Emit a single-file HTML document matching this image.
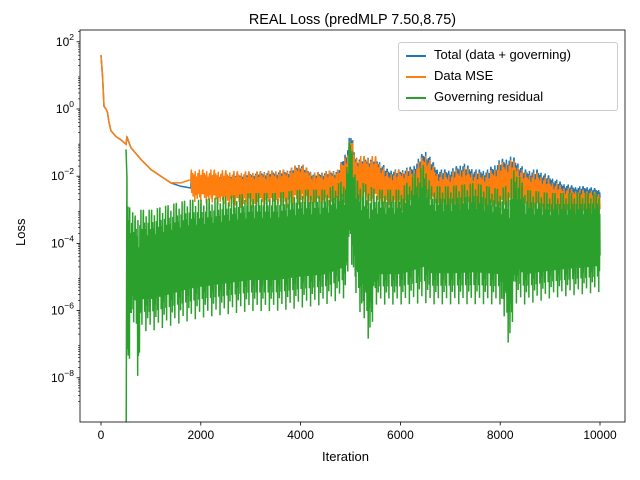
<!DOCTYPE html>
<html><head><meta charset="utf-8"><style>
body{margin:0;background:#fff;font-family:"Liberation Sans","DejaVu Sans",sans-serif}
svg{display:block}
</style></head><body>
<svg id="chart" width="640" height="480" xmlns="http://www.w3.org/2000/svg">
<rect width="640" height="480" fill="#fff"/>
<g id="series"></g>
<g id="axes"></g>
</svg>
<script>
// ---- data (log10 of loss) ----
const warmIter=[0,30,60,100,130,160,200,300,400,500,520,600,800,1000,1200,1400,1600,1800];
const totalWarm=[1.6,1.0,0.08,0,-0.1,-0.4,-0.65,-0.82,-0.92,-1.05,-0.82,-1.15,-1.5,-1.8,-2.0,-2.2,-2.3,-2.35];
const dataWarm=[1.6,1.0,0.08,0,-0.1,-0.4,-0.65,-0.82,-0.92,-1.05,-0.85,-1.15,-1.5,-1.8,-2.0,-2.2,-2.2,-2.1];
const bandIter=[1800,2250,2750,3250,3750,4000,4250,4750,4950,5000,5100,5500,5750,6000,6250,6500,6750,7000,7250,7500,7750,8000,8250,8500,8750,9000,9250,9500,9750,10000];
const totalHigh=[-2.0,-1.9,-1.9,-1.85,-1.8,-1.6,-1.9,-1.8,-1.1,-0.6,-1.4,-1.4,-1.8,-1.8,-1.7,-1.2,-1.8,-1.8,-1.6,-1.8,-1.8,-1.5,-1.4,-1.8,-1.8,-2.0,-2.2,-2.3,-2.3,-2.4];
const totalLow=[-2.5,-2.5,-2.5,-2.5,-2.5,-2.4,-2.5,-2.5,-2.2,-1.9,-2.4,-2.5,-2.5,-2.5,-2.5,-2.4,-2.5,-2.6,-2.6,-2.6,-2.7,-2.6,-2.5,-2.7,-2.7,-2.7,-2.8,-2.8,-2.8,-2.8];
const dataHigh=[-1.8,-1.8,-1.85,-1.85,-1.8,-1.6,-1.9,-1.8,-1.2,-0.7,-1.4,-1.4,-1.9,-1.8,-1.8,-1.3,-1.9,-1.9,-1.7,-1.9,-1.9,-1.6,-1.5,-1.9,-1.9,-2.1,-2.3,-2.4,-2.4,-2.5];
const dataLow=[-2.8,-2.9,-3.0,-3.0,-3.0,-2.9,-3.0,-3.0,-2.8,-2.4,-2.9,-3.0,-3.1,-3.1,-3.1,-2.9,-3.1,-3.2,-3.2,-3.2,-3.2,-3.2,-3.1,-3.2,-3.2,-3.3,-3.3,-3.3,-3.3,-3.3];
const govIter=[500,520,600,700,750,800,1000,1250,1500,1750,2000,2500,3000,3500,4000,4500,4900,5000,5100,5400,5500,6000,6500,6600,7000,7500,8000,8200,8300,8500,9000,9500,10000];
const govHigh=[-1.2,-2.0,-3.0,-3.2,-3.0,-3.0,-3.0,-2.9,-2.8,-2.7,-2.7,-2.6,-2.5,-2.5,-2.4,-2.4,-2.1,-0.6,-2.1,-2.3,-2.4,-2.4,-1.6,-2.3,-2.3,-2.2,-2.4,-2.2,-1.7,-2.4,-2.5,-2.5,-2.5];
const govLow=[-1.2,-9.5,-6.6,-6.8,-8.8,-6.8,-6.8,-6.7,-6.6,-6.5,-6.4,-6.3,-6.2,-6.2,-6.1,-6.0,-5.8,-4.5,-5.8,-7.3,-6.0,-6.0,-6.0,-6.0,-6.0,-6.0,-6.0,-7.5,-6.0,-6.0,-5.8,-5.7,-5.6];
const xTicks=[0,2000,4000,6000,8000,10000];
const yTicks=[2,0,-2,-4,-6,-8];
// ---- scales ----
const L=80,R=625,T=30,B=422;
const px=it=>101+it*0.0499;
const py=lv=>109-lv*33.6;
const NS="http://www.w3.org/2000/svg";
const ser=document.getElementById('series'),ax=document.getElementById('axes');
function el(tag,at,parent){const e=document.createElementNS(NS,tag);for(const k in at)e.setAttribute(k,at[k]);parent.appendChild(e);return e;}
function interp(xs,ys,x){for(let i=1;i<xs.length;i++){if(x<=xs[i]){const t=(x-xs[i-1])/(xs[i]-xs[i-1]);return ys[i-1]+t*(ys[i]-ys[i-1]);}}return ys[ys.length-1];}
const pat=[1,0.3,0.75,0.45,0.9,0.2,0.6,0.85,0.35,0.65,0.05,0.95,0.5,0.25,0.8,0.4,0.7,0.15,0.55,0.9,0.3,0.6,0.45,1,0.2,0.7,0.5,0.1,0.85,0.4,0.65,0.3,0.95];
function bandPts(xs,hi,lo,start,end,step){const p=[];let k=0;for(let it=start;it<=end;it+=step){const h=interp(xs,hi,it),l=interp(xs,lo,it);const f=pat[k%pat.length];k++;p.push(px(it).toFixed(2)+','+py(l+(h-l)*f).toFixed(1));}return p;}
function warmPts(xs,ys){return xs.map((x,i)=>px(x).toFixed(1)+','+py(ys[i]).toFixed(1));}
const clip=el('clipPath',{id:'cp'},ser);el('rect',{x:L,y:T,width:R-L,height:B-T},clip);
const g=el('g',{'clip-path':'url(#cp)'},ser);
const p1=el('polyline',{points:warmPts(warmIter,totalWarm).concat(bandPts(bandIter,totalHigh,totalLow,1810,10000,7)).join(' '),fill:'none',stroke:'#1f77b4','stroke-width':1.5},g);


const p2=el('polyline',{points:warmPts(warmIter,dataWarm).concat(bandPts(bandIter,dataHigh,dataLow,1810,10000,7)).join(' '),fill:'none',stroke:'#ff7f0e','stroke-width':1.5},g);


const gp=[];govIter.forEach((it,i)=>{if(i<2)gp.push(px(it).toFixed(1)+','+py(govHigh[i]).toFixed(1));});
gp.push(px(505).toFixed(1)+','+py(-9.5).toFixed(1));
const p3=el('polyline',{points:gp.concat(bandPts(govIter,govHigh,govLow,520,10000,5)).join(' '),fill:'none',stroke:'#2ca02c','stroke-width':1.5},g);


// ---- axes ----
el('rect',{x:L,y:T,width:R-L,height:B-T,fill:'none',stroke:'#000','stroke-width':0.8},ax);
xTicks.forEach(v=>{const x=px(v);el('line',{x1:x,x2:x,y1:B,y2:B+3.5,stroke:'#000','stroke-width':0.8},ax);
const t=el('text',{x:x,y:B+17,'font-size':12,'text-anchor':'middle',fill:'#000'},ax);t.textContent=v;
});
yTicks.forEach(v=>{const y=py(v);el('line',{x1:L-3.5,x2:L,y1:y,y2:y,stroke:'#000','stroke-width':0.8},ax);
const t=el('text',{x:L-6,y:y+4,'font-size':12,'text-anchor':'end',fill:'#000'},ax);t.innerHTML='10<tspan dy="-6" font-size="8.5">'+(v<0?'\u2212'+(-v):v)+'</tspan>';
});
for(let d=-9;d<=2;d++)for(let m=2;m<10;m++){const lv=d+Math.log10(m);const y=py(lv);if(y>T&&y<B)el('line',{x1:L-2,x2:L,y1:y,y2:y,stroke:'#000','stroke-width':0.6},ax);}
</script>
<div style="position:absolute;left:0;top:12px;width:705px;text-align:center;font-size:14.4px">REAL Loss (predMLP 7.50,8.75)</div>
<div style="position:absolute;left:322px;top:449px;font-size:13px">Iteration</div>
<div style="position:absolute;left:13px;top:246px;font-size:13px;transform:rotate(-90deg);transform-origin:left top">Loss</div>
<div style="position:absolute;left:398px;top:42px;width:218px;height:67px;border:1px solid #ccc;border-radius:3px;background:rgba(255,255,255,0.85);font-size:13px">
<div style="position:absolute;left:7px;top:4px;white-space:nowrap"><span style="display:inline-block;width:20px;height:2px;background:#1f77b4;vertical-align:middle;margin-right:8px"></span>Total (data + governing)</div>
<div style="position:absolute;left:7px;top:25px;white-space:nowrap"><span style="display:inline-block;width:20px;height:2px;background:#ff7f0e;vertical-align:middle;margin-right:8px"></span>Data MSE</div>
<div style="position:absolute;left:7px;top:46px;white-space:nowrap"><span style="display:inline-block;width:20px;height:2px;background:#2ca02c;vertical-align:middle;margin-right:8px"></span>Governing residual</div>
</div>
</body></html>
